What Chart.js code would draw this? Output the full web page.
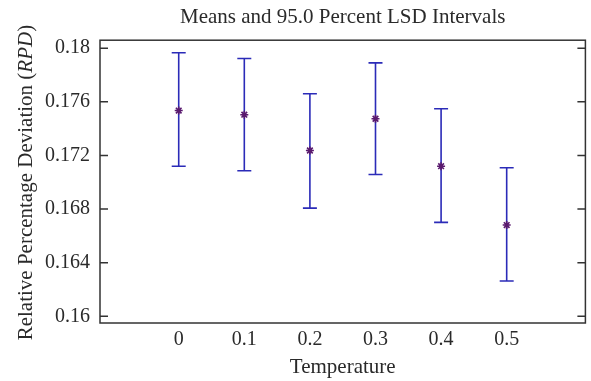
<!DOCTYPE html>
<html>
<head>
<meta charset="utf-8">
<script src="https://cdn.jsdelivr.net/npm/chart.js@4/dist/chart.umd.min.js"></script>
<style>
  body { margin: 0; background: #fff; }
  #wrap { width: 591px; height: 381px; }
</style>
</head>
<body>
<div id="wrap"><canvas id="lsdChart"></canvas></div>
<script>
// Temperature levels and LSD interval data (RPD)
const temps = [0, 0.1, 0.2, 0.3, 0.4, 0.5];
const means = [0.17535, 0.17504, 0.17237, 0.17474, 0.17120, 0.16681];
const lower = [0.17120, 0.17086, 0.16807, 0.17058, 0.16701, 0.16263];
const upper = [0.17966, 0.17923, 0.17660, 0.17891, 0.17548, 0.17108];

const xTicks = [0, 0.1, 0.2, 0.3, 0.4, 0.5];
const yTicks = [0.16, 0.164, 0.168, 0.172, 0.176, 0.18];

const FONT = '"Liberation Serif", "Times New Roman", serif';
const TEXT = '#2a2a2a';

// error bars, frame, inward ticks and y title
const lsdPlugin = {
    id: 'lsdPlugin',
    beforeDatasetsDraw(chart) {
        const ctx = chart.ctx;
        const xs = chart.scales.x;
        const ys = chart.scales.y;
        ctx.save();
        ctx.strokeStyle = '#2b2bb8';
        ctx.lineWidth = 1.6;
        temps.forEach((t, i) => {
            const px = xs.getPixelForValue(t);
            const top = ys.getPixelForValue(upper[i]);
            const bot = ys.getPixelForValue(lower[i]);
            ctx.beginPath();
            ctx.moveTo(px, top);
            ctx.lineTo(px, bot);
            ctx.moveTo(px - 7, top);
            ctx.lineTo(px + 7, top);
            ctx.moveTo(px - 7, bot);
            ctx.lineTo(px + 7, bot);
            ctx.stroke();
        });
        ctx.restore();
    },
    afterDraw(chart) {
        const ctx = chart.ctx;
        const a = chart.chartArea;
        const ys = chart.scales.y;
        ctx.save();
        ctx.strokeStyle = '#333';
        ctx.lineWidth = 1.5;
        ctx.strokeRect(a.left, a.top, a.right - a.left, a.bottom - a.top);
        ctx.beginPath();
        yTicks.forEach(v => {
            const py = ys.getPixelForValue(v);
            ctx.moveTo(a.left, py);
            ctx.lineTo(a.left + 8, py);
            ctx.moveTo(a.right, py);
            ctx.lineTo(a.right - 8, py);
        });
        ctx.stroke();

        // y title with italic abbreviation
        const plain = 'Relative Percentage Deviation (';
        const ital = 'RPD';
        const close = ')';
        const fPlain = '21px ' + FONT;
        const fItal = 'italic 21px ' + FONT;
        ctx.font = fPlain;
        const w1 = ctx.measureText(plain).width;
        const w3 = ctx.measureText(close).width;
        ctx.font = fItal;
        const w2 = ctx.measureText(ital).width;
        const total = w1 + w2 + w3;
        ctx.translate(26, (a.top + a.bottom) / 2 + 1);
        ctx.rotate(-Math.PI / 2);
        ctx.fillStyle = TEXT;
        ctx.textBaseline = 'middle';
        ctx.textAlign = 'left';
        let x = -total / 2;
        ctx.font = fPlain;
        ctx.fillText(plain, x, 0);
        x += w1;
        ctx.font = fItal;
        ctx.fillText(ital, x, 0);
        x += w2;
        ctx.font = fPlain;
        ctx.fillText(close, x, 0);
        ctx.restore();
    }
};

const ctx = document.getElementById('lsdChart').getContext('2d');
const lsdChart = new Chart(ctx, {
    type: 'scatter',
    data: {
        datasets: [{
            label: 'Mean',
            data: temps.map((t, i) => ({ x: t, y: means[i] })),
            pointStyle: 'star',
            radius: 4,
            borderColor: '#5a1a6e',
            backgroundColor: '#5a1a6e',
            borderWidth: 1.6
        }]
    },
    options: {
        responsive: true,
        maintainAspectRatio: false,
        animation: false,
        layout: { padding: { left: 0, right: 3, top: 0, bottom: 0 } },
        plugins: {
            legend: { display: false },
            tooltip: { enabled: false },
            title: {
                display: true,
                text: 'Means and 95.0 Percent LSD Intervals',
                fullSize: false,
                color: TEXT,
                font: { family: FONT, size: 21, weight: 'normal' },
                padding: { top: 5, bottom: 10 }
            }
        },
        scales: {
            x: {
                type: 'linear',
                min: -0.12,
                max: 0.62,
                grid: { display: false, drawTicks: false },
                border: { display: false },
                afterBuildTicks: s => { s.ticks = xTicks.map(v => ({ value: v })); },
                afterFit: s => {
                    s.height = 58;
                    s.paddingLeft = 0;
                    s.paddingRight = 0;
                },
                ticks: {
                    color: TEXT,
                    padding: 5,
                    font: { family: FONT, size: 20 },
                    callback: v => String(+v.toFixed(2))
                },
                title: {
                    display: true,
                    text: 'Temperature',
                    color: TEXT,
                    font: { family: FONT, size: 21 },
                    padding: { top: 0, bottom: 1 }
                }
            },
            y: {
                min: 0.1595,
                max: 0.1806,
                grid: { display: false, drawTicks: false },
                border: { display: false },
                afterBuildTicks: s => { s.ticks = yTicks.map(v => ({ value: v })); },
                afterFit: s => {
                    s.width = 100;
                    s.paddingTop = 0;
                    s.paddingBottom = 0;
                },
                ticks: {
                    color: TEXT,
                    padding: 10,
                    font: { family: FONT, size: 20 },
                    callback: v => String(+v.toFixed(3))
                }
            }
        }
    },
    plugins: [lsdPlugin]
});
</script>
</body>
</html>
